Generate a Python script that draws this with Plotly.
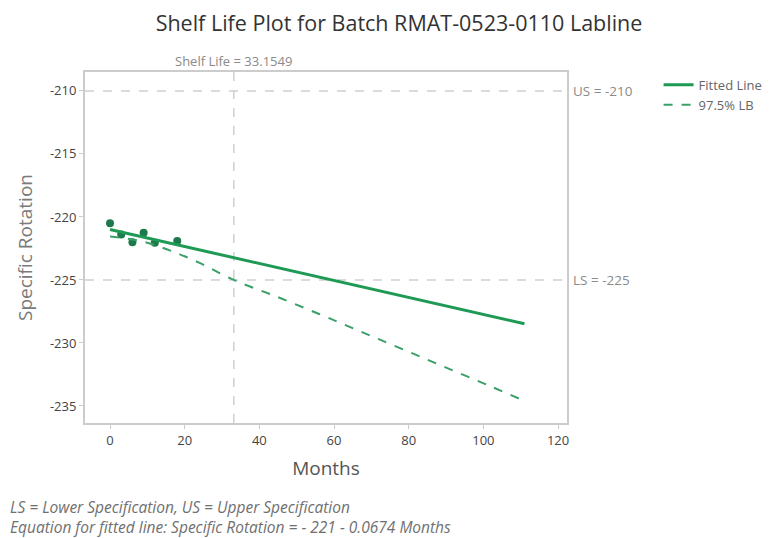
import plotly.graph_objects as go

# Data
months_obs = [0, 3, 6, 9, 12, 18]
rotation_obs = [-220.5, -221.4, -222.0, -221.25, -222.05, -221.9]

fit_months = [0, 111]
fit_values = [-221.0, -228.48]

lb_months = [0, 8, 16, 24, 33.15, 44, 56, 64, 72, 82, 92, 102, 111]
lb_values = [-221.55, -221.9, -222.65, -223.65, -225.0, -226.25, -227.7,
             -228.7, -229.7, -230.95, -232.2, -233.45, -234.6]

upper_spec = -210
lower_spec = -225
shelf_life = 33.1549

x_ticks = [0, 20, 40, 60, 80, 100, 120]
y_ticks = [-210, -215, -220, -225, -230, -235]
y_tick_text = ["-210", "-215", "-220", "-225", "-230", "-235"]

FONT = "Open Sans, Noto Sans, sans-serif"
GREEN = "#1f9a55"
DARK_GREEN = "#1c7a4c"

# figure geometry (page body has an 8px margin)
W, H = 776, 530
ML, MT, PW, PH = 77, 64, 482, 351

fig = go.Figure()

fig.add_trace(go.Scatter(
    x=months_obs, y=rotation_obs, mode="markers",
    marker=dict(color=DARK_GREEN, size=8),
    showlegend=False, hoverinfo="x+y"))

fig.add_trace(go.Scatter(
    x=fit_months, y=fit_values, mode="lines", name="Fitted Line",
    line=dict(color=GREEN, width=3)))

fig.add_trace(go.Scatter(
    x=lb_months, y=lb_values, mode="lines", name="97.5% LB",
    line=dict(color="#3aa068", width=2, dash="dash"), line_shape="spline"))

ref_line = dict(color="#cfcfcf", width=1.5, dash="dash")
fig.add_hline(y=upper_spec, line=ref_line, layer="below")
fig.add_hline(y=lower_spec, line=ref_line, layer="below")
fig.add_vline(x=shelf_life, line=ref_line, layer="below")

ann_font = dict(family=FONT, size=13.5, color="#8a8a8a")
fig.add_annotation(x=1.0, xref="paper", y=upper_spec, yref="y",
                   text=f"US = {upper_spec}", showarrow=False,
                   xanchor="left", xshift=4, font=ann_font)
fig.add_annotation(x=1.0, xref="paper", y=lower_spec, yref="y",
                   text=f"LS = {lower_spec}", showarrow=False,
                   xanchor="left", xshift=4, font=ann_font)
fig.add_annotation(x=shelf_life, xref="x", y=1.0, yref="paper",
                   text=f"Shelf Life = {shelf_life}", showarrow=False,
                   yanchor="bottom", yshift=0,
                   font=dict(family=FONT, size=13, color="#8a8a8a"))

foot_font = dict(family=FONT, size=15.5, color="#707070")
footer_lines = [
    "<i>LS = Lower Specification, US = Upper Specification</i>",
    "<i>Equation for fitted line: Specific Rotation = - 221 - 0.0674 Months</i>",
]
fig.add_annotation(x=-ML / PW, xref="paper", xanchor="left",
                   y=(MT + PH - 509) / PH, yref="paper",
                   yanchor="middle", align="left",
                   text="<br>".join(footer_lines), showarrow=False,
                   font=foot_font)

axis_common = dict(
    showgrid=False, zeroline=False, showline=True, linecolor="#cccccc",
    linewidth=2, mirror=True, ticks="outside", ticklen=4, tickcolor="#cccccc",
    tickfont=dict(family=FONT, size=13, color="#444444"),
)

fig.update_xaxes(range=[-6.7, 122.4], tickvals=x_ticks,
                 title=dict(text="Months", font=dict(family=FONT, size=19, color="#555555"),
                            standoff=14),
                 **axis_common)
fig.update_yaxes(range=[-236.35, -208.5], tickvals=y_ticks, ticktext=y_tick_text,
                 title=dict(text="Specific Rotation", font=dict(family=FONT, size=19, color="#7a7a7a"),
                            standoff=12),
                 **axis_common)

fig.update_layout(
    width=W, height=H,
    margin=dict(l=ML, r=W - ML - PW, t=MT, b=H - MT - PH),
    paper_bgcolor="white", plot_bgcolor="white",
    title=dict(text="Shelf Life Plot for Batch RMAT-0523-0110 Labline",
               x=(399 - 8) / W, xanchor="center", y=1 - 15 / H, yanchor="middle",
               font=dict(family=FONT, size=21.5, color="#333333")),
    legend=dict(x=1.19, y=1.006, xanchor="left", yanchor="top",
                font=dict(family=FONT, size=13, color="#666666"),
                bgcolor="rgba(0,0,0,0)", tracegroupgap=0),
    font=dict(family=FONT),
)

fig.write_html("out.html")
